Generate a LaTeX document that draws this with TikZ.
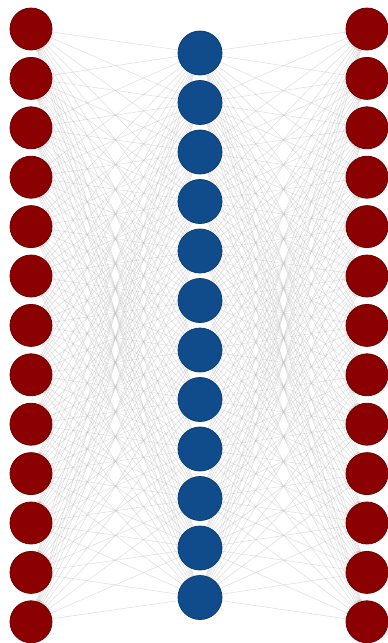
\documentclass[tikz,border=0pt]{standalone}
\usetikzlibrary{backgrounds}
\definecolor{merah}{RGB}{139,0,0}
\definecolor{biru}{RGB}{16,76,140}
\begin{document}
\begin{tikzpicture}[x=1pt,y=-1pt,
    unitmerah/.style={circle,fill=merah,draw=merah!80!black,thick,minimum size=42pt,inner sep=0pt},
    unitbiru/.style={circle,fill=biru,draw=biru!80!black,thick,minimum size=44pt,inner sep=0pt},
    sisi/.style={->,gray!50,opacity=0.5,line width=0.55pt}]
    \useasboundingbox (0,0) rectangle (388,643);

    % Lapisan masukan dan keluaran
    \foreach \i in {1,...,13} {
        \node[unitmerah] (in\i) at (31,{29+(\i-1)*49.4}) {};
        \node[unitmerah] (out\i) at (367,{29+(\i-1)*49.4}) {};
    }

    % Lapisan tersembunyi
    \foreach \j in {1,...,12}
        \node[unitbiru] (h\j) at (200,{53+(\j-1)*49.5}) {};

    % Sisi antar lapisan
    \begin{scope}[on background layer]
    \foreach \j in {1,...,12}
        \foreach \i in {1,...,13} {
            \draw[sisi] (h\j) -- (in\i);
            \draw[sisi] (h\j) -- (out\i);
        }
    \end{scope}
\end{tikzpicture}
\end{document}
